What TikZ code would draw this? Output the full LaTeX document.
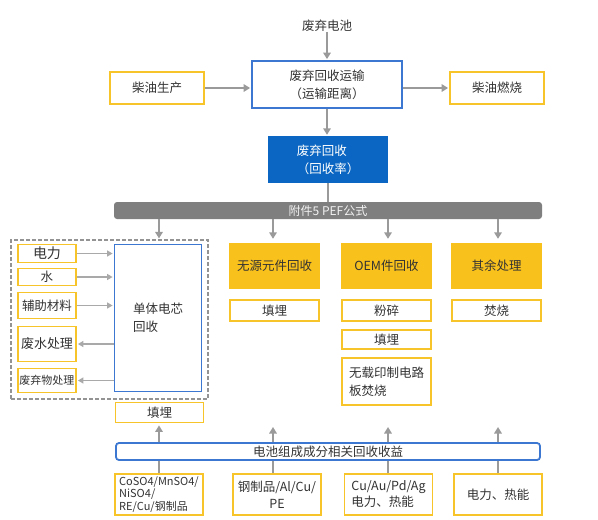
\documentclass[tikz,border=0pt]{standalone}
\usepackage{fontspec}
\newfontfamily\cjk{Noto Sans CJK SC}
\usetikzlibrary{arrows.meta}
\definecolor{ycol}{HTML}{F7C42A}
\definecolor{yfil}{HTML}{F9C11C}
\definecolor{bcol}{HTML}{3C78D2}
\definecolor{bfil}{HTML}{0A66C2}
\definecolor{gbar}{HTML}{7F7F7F}
\definecolor{agray}{HTML}{9A9A9A}
\definecolor{txt}{HTML}{333333}
\tikzset{
  base/.style={font=\cjk\fontsize{12.5}{18}\selectfont, text=txt, inner sep=0pt, align=center},
  ybox/.style={base, draw=ycol, line width=1.8pt, fill=white},
  yfill/.style={base, fill=yfil, minimum width=91pt, minimum height=46pt},
  bbox/.style={base, draw=bcol, line width=1.8pt, fill=white},
  lbox/.style={ybox, minimum width=58pt},
  rbox/.style={ybox, minimum width=89pt},
  botbox/.style={ybox, minimum width=88pt, minimum height=41pt},
  arr/.style={draw=agray, line width=1.8pt, -{Triangle[length=6.5pt,width=7.5pt]}, shorten >=1pt},
  arrs/.style={draw=agray!85, line width=1.3pt, -{Triangle[length=5.5pt,width=6pt]}, shorten >=1pt},
  ln/.style={draw=agray, line width=1.8pt},
}
\begin{document}
\begin{tikzpicture}[x=1pt,y=-1pt]
\useasboundingbox (0,0) rectangle (598,520);
% column coordinates
\coordinate (k1) at (159,0);
\coordinate (k2) at (273,0);
\coordinate (k3) at (388,0);
\coordinate (k4) at (498,0);

% top part
\node[base] (bat) at (327,26) {废弃电池};
\node[bbox, minimum width=150pt, minimum height=47pt] (trans) at (327,84.5) {废弃回收运输\\（运输距离）};
\node[ybox, minimum width=94pt, minimum height=32pt] (dprod) at (157,88) {柴油生产};
\node[ybox, minimum width=94pt, minimum height=32pt] (dburn) at (497,88) {柴油燃烧};
\node[base, fill=bfil, text=white, minimum width=120pt, minimum height=47pt, align=left] (rec) at (328,159.5) {废弃回收\\（回收率）};
\node[base, fill=gbar, rounded corners=3pt, minimum width=428pt, minimum height=17pt, text=white!90!gray, font=\cjk\fontsize{12}{14}\selectfont] (pef) at (328,210.5) {附件5 PEF公式};

\draw[arr] (bat.south) -- (bat.south |- trans.north);
\draw[arr] (dprod.east) -- (dprod.east -| trans.west);
\draw[arr] (trans.east |- dburn) -- (dburn.west);
\draw[arr] (trans.south) -- (trans.south |- rec.north);
\draw[ln] (rec.south) -- (rec.south |- pef.north);

% left group
\node[draw=gray!85, dashed, dash pattern=on 4pt off 2pt, line width=1.2pt, minimum width=197pt, minimum height=159pt, inner sep=0pt] (grp) at (109.5,319.5) {};
\node[lbox, minimum height=18pt, font=\cjk\fontsize{14}{16}\selectfont] (el) at (47,253.5) {电力};
\node[lbox, minimum height=17pt] (wa) at (47,277) {水};
\node[lbox, minimum height=26pt] (aux) at (47,305.5) {辅助材料};
\node[lbox, minimum height=35pt, font=\cjk\fontsize{13}{16}\selectfont] (ww) at (47,344) {废水处理};
\node[lbox, minimum height=24pt, font=\cjk\fontsize{11}{13}\selectfont] (sw) at (47,380.5) {废弃物处理};
\node[bbox, minimum width=87pt, minimum height=147pt, align=left] (cell) at (158,318) {单体电芯\\回收};
\node[ybox, minimum width=88pt, minimum height=20pt] (fill1) at (159.5,412.5) {填埋};

\draw[arrs] (el.east) -- (el.east -| cell.west);
\draw[arrs] (wa.east) -- (wa.east -| cell.west);
\draw[arrs] (aux.east) -- (aux.east -| cell.west);
\draw[arrs] (cell.west |- ww) -- (ww.east);
\draw[arrs] (cell.west |- sw) -- (sw.east);

% other columns
\node[yfill] (pas) at (274.5,266) {无源元件回收};
\node[yfill] (oem) at (386.5,266) {OEM件回收};
\node[yfill] (rest) at (496.5,266) {其余处理};
\node[rbox, minimum height=21pt] (fill2) at (274.5,310.5) {填埋};
\node[rbox, minimum height=21pt] (crush) at (386.5,310.5) {粉碎};
\node[rbox, minimum height=21pt] (burn) at (496.5,310.5) {焚烧};
\node[rbox, minimum height=19pt] (fill3) at (386.5,339.5) {填埋};
\node[rbox, minimum height=47pt, align=left] (pcb) at (386.5,381.5) {无载印制电路\\板焚烧};

\draw[arr] (pef.south -| k1) -- (grp.north -| k1);
\draw[arr, shorten >=4pt] (pef.south -| k2) -- (pas.north -| k2);
\draw[arr, shorten >=4pt] (pef.south -| k3) -- (oem.north -| k3);
\draw[arr, shorten >=4pt] (pef.south -| k4) -- (rest.north -| k4);

% bottom
\node[base, draw=bcol, fill=white, line width=1.8pt, rounded corners=3pt, minimum width=424pt, minimum height=17pt] (gain) at (328,451.5) {电池组成成分相关回收收益};
\coordinate (u2) at (273,426);
\coordinate (u3) at (388,426);
\coordinate (u4) at (498,426);
\draw[arr, shorten >=2pt] (gain.north -| k1) -- (fill1.south -| k1);
\draw[arr] (gain.north -| k2) -- (u2);
\draw[arr] (gain.north -| k3) -- (u3);
\draw[arr] (gain.north -| k4) -- (u4);

\node[botbox, align=left, font=\cjk\fontsize{11}{12.5}\selectfont] (b1) at (159,494.5) {CoSO4/MnSO4/\\NiSO4/\\RE/Cu/钢制品};
\node[botbox, font=\cjk\fontsize{12.5}{17}\selectfont] (b2) at (277,494.5) {钢制品/Al/Cu/\\PE};
\node[botbox, align=left, font=\cjk\fontsize{12.5}{16}\selectfont] (b3) at (388.5,494.5) {Cu/Au/Pd/Ag\\电力、热能};
\node[botbox] (b4) at (498,494.5) {电力、热能};

\draw[ln] (gain.south -| k1) -- (b1.north -| k1);
\draw[ln] (gain.south -| k2) -- (b2.north -| k2);
\draw[ln] (gain.south -| k3) -- (b3.north -| k3);
\draw[ln] (gain.south -| k4) -- (b4.north -| k4);
\end{tikzpicture}
\end{document}
